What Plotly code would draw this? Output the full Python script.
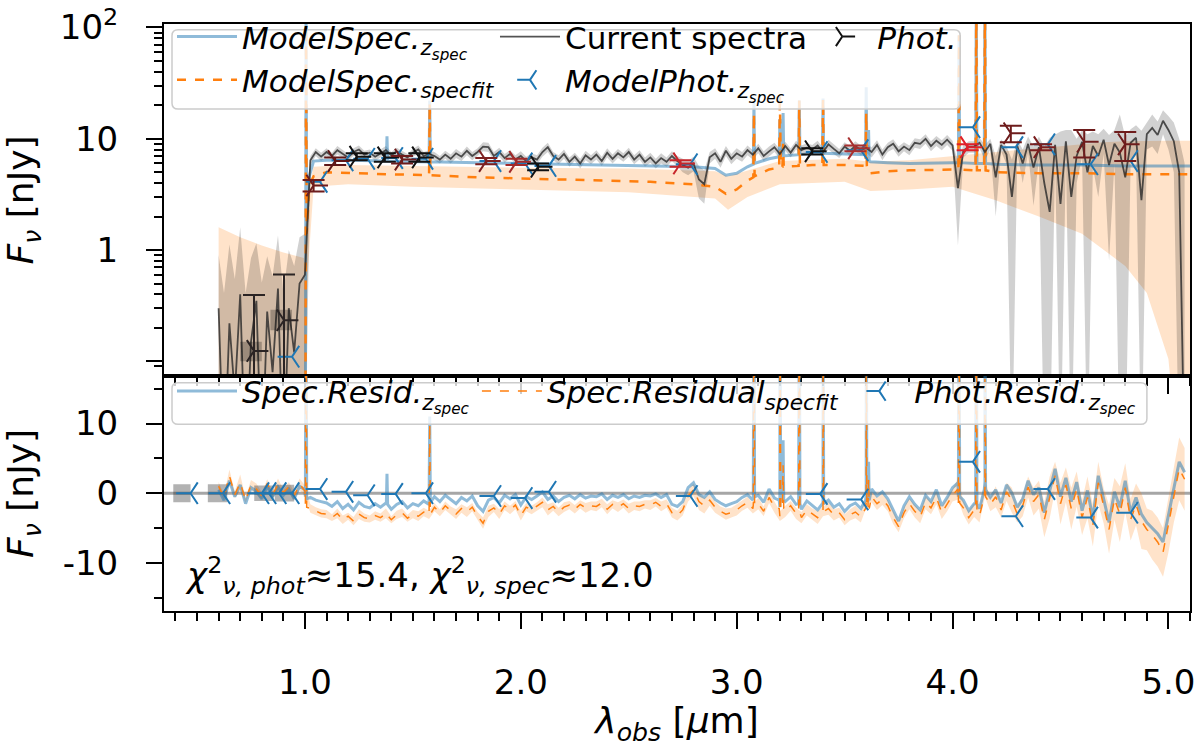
import numpy as np
import plotly.graph_objects as go

# ---------------- data ----------------
# observed spectrum (current spectra), its 1-sigma error and the two residuals
lam_spec = [
    0.600, 0.625, 0.650, 0.675, 0.700, 0.725, 0.750, 0.775, 0.800, 0.825,
    0.850, 0.875, 0.900, 0.925, 0.950, 0.975, 1.000, 1.025, 1.050, 1.075,
    1.100, 1.125, 1.150, 1.175, 1.200, 1.225, 1.250, 1.275, 1.300, 1.325,
    1.350, 1.375, 1.400, 1.425, 1.450, 1.475, 1.500, 1.525, 1.550, 1.575,
    1.600, 1.625, 1.650, 1.675, 1.700, 1.725, 1.750, 1.775, 1.800, 1.825,
    1.850, 1.875, 1.900, 1.925, 1.950, 1.975, 2.000, 2.025, 2.050, 2.075,
    2.100, 2.125, 2.150, 2.175, 2.200, 2.225, 2.250, 2.275, 2.300, 2.325,
    2.350, 2.375, 2.400, 2.425, 2.450, 2.475, 2.500, 2.525, 2.550, 2.575,
    2.600, 2.625, 2.650, 2.675, 2.700, 2.725, 2.750, 2.775, 2.800, 2.825,
    2.850, 2.875, 2.900, 2.925, 2.950, 2.975, 3.000, 3.025, 3.050, 3.075,
    3.100, 3.125, 3.150, 3.175, 3.200, 3.225, 3.250, 3.275, 3.300, 3.325,
    3.350, 3.375, 3.400, 3.425, 3.450, 3.475, 3.500, 3.525, 3.550, 3.575,
    3.600, 3.625, 3.650, 3.675, 3.700, 3.725, 3.750, 3.775, 3.800, 3.825,
    3.850, 3.875, 3.900, 3.925, 3.950, 3.975, 4.000, 4.025, 4.050, 4.075,
    4.100, 4.125, 4.150, 4.175, 4.200, 4.225, 4.250, 4.275, 4.300, 4.325,
    4.350, 4.375, 4.400, 4.425, 4.450, 4.475, 4.500, 4.525, 4.550, 4.575,
    4.600, 4.625, 4.650, 4.675, 4.700, 4.725, 4.750, 4.775, 4.800, 4.825,
    4.850, 4.875, 4.900, 4.925, 4.950, 4.975, 5.000, 5.025, 5.050, 5.075,
]
flux_spec = [
    0.30, 0.01, 0.22, 0.05, 0.40, 0.01, 0.15, 0.35, 0.01, 0.28,
    0.08, 0.45, 0.01, 0.30, 0.12, 0.50, 0.60, 6.4, 7.6, 6.9,
    7.6, 7.0, 7.9, 7.3, 6.8, 7.6, 8.0, 7.2, 7.5, 6.9,
    7.4, 7.9, 7.1, 7.7, 7.2, 6.8, 7.5, 8.0, 7.0, 7.3,
    7.0, 6.5, 7.2, 6.6, 7.4, 6.9, 7.8, 7.0, 7.6, 8.5,
    8.4, 7.0, 7.6, 6.7, 7.3, 6.5, 7.0, 6.3, 6.8, 6.5,
    7.6, 8.4, 7.0, 6.5, 7.3, 6.2, 6.9, 6.0, 7.1, 6.5,
    7.2, 6.3, 7.5, 6.6, 7.4, 6.8, 7.6, 6.5, 7.2, 6.2,
    6.8, 6.0, 6.7, 6.2, 7.0, 6.3, 5.8, 5.5, 6.0, 4.3,
    3.9, 6.8, 7.4, 6.2, 7.8, 6.6, 7.4, 6.9, 7.9, 7.2,
    8.2, 7.0, 7.7, 8.4, 7.3, 8.6, 7.5, 8.8, 7.9, 8.3,
    8.0, 8.7, 7.6, 8.9, 8.1, 7.4, 8.5, 7.8, 8.6, 7.9,
    8.3, 7.6, 8.8, 7.2, 8.4, 9.0, 7.7, 8.5, 7.9, 9.2,
    9.0, 10.0, 8.6, 9.6, 8.8, 9.8, 8.7, 3.6, 7.8, 8.5,
    8.5, 9.2, 7.6, 9.0, 4.5, 8.8, 7.2, 3.0, 8.6, 6.0,
    9.0, 5.5, 8.4, 4.0, 2.2, 8.8, 2.6, 9.5, 3.0, 7.0,
    9.4, 5.0, 8.6, 7.0, 9.8, 5.8, 9.0, 7.5, 4.5, 9.2,
    10.2, 2.8, 11.0, 12.5, 10.8, 14.5, 12.0, 9.5, 5.0, 0.01,
]
err_spec = [
    0.6, 0.4, 0.9, 0.5, 1.2, 0.4, 0.7, 0.8, 0.5, 0.6,
    0.5, 0.9, 0.4, 0.7, 0.6, 0.8, 0.8, 0.6, 0.6, 0.6,
    0.6, 0.5, 0.7, 0.6, 0.5, 0.6, 0.7, 0.6, 0.5, 0.6,
    0.6, 0.7, 0.5, 0.6, 0.6, 0.5, 0.6, 0.7, 0.6, 0.6,
    0.6, 0.5, 0.6, 0.6, 0.7, 0.6, 0.7, 0.6, 0.6, 0.8,
    0.8, 0.6, 0.7, 0.6, 0.6, 0.6, 0.7, 0.6, 0.6, 0.6,
    0.7, 0.8, 0.6, 0.6, 0.7, 0.6, 0.6, 0.6, 0.7, 0.6,
    0.7, 0.6, 0.7, 0.6, 0.7, 0.6, 0.7, 0.6, 0.7, 0.6,
    0.7, 0.6, 0.7, 0.6, 0.7, 0.7, 0.8, 0.8, 0.9, 1.4,
    1.3, 0.8, 0.8, 0.7, 0.8, 0.7, 0.8, 0.7, 0.8, 0.7,
    0.8, 0.7, 0.8, 0.8, 0.7, 0.8, 0.7, 0.8, 0.8, 0.8,
    0.8, 0.9, 0.7, 0.9, 0.8, 0.7, 0.8, 0.8, 0.9, 0.8,
    0.8, 0.8, 0.9, 0.8, 0.8, 0.9, 0.8, 0.8, 0.8, 0.9,
    0.9, 1.0, 0.9, 1.0, 0.9, 1.0, 0.9, 2.5, 1.0, 1.0,
    1.0, 1.0, 1.2, 1.0, 2.5, 1.1, 1.3, 3.5, 1.2, 2.0,
    1.5, 3.0, 2.0, 4.5, 8.0, 2.0, 9.0, 2.5, 9.0, 3.0,
    2.5, 6.0, 3.0, 4.0, 2.5, 5.0, 3.0, 9.0, 6.0, 3.0,
    3.0, 9.0, 3.0, 4.0, 3.5, 3.5, 4.0, 4.5, 5.0, 6.0,
]
res_zspec = [
    0.5, -1.0, 1.8, -0.5, 1.2, -1.5, 0.8, 0.3, -0.8, 1.0,
    -0.5, 0.9, -0.3, 0.6, -0.8, 1.0, 0.5, -0.6, -1.0, -1.2,
    -1.4, -1.9, -1.2, -2.2, -1.6, -2.4, -1.3, -1.9, -2.1, -1.5,
    -2.0, -1.4, -2.3, -1.6, -1.2, -2.1, -1.5, -1.8, -1.1, -1.6,
    -0.5, -1.2, -0.3, -0.9, -1.5, -0.6, -1.1, -0.4, -1.8, -2.6,
    -1.0, -0.6, -1.4, -0.3, -0.8, -0.2, -1.7, -0.5, -0.9, -0.4,
    0.2, -0.9, -0.4, -1.2, -0.6, -0.3, -0.8, -0.2, -0.7, -0.4,
    -0.5, -0.1, -0.9, -0.3, -0.6, -0.2, -0.8, -0.4, -0.6, -0.3,
    -0.4, -0.1, -0.6, -0.2, -1.6, -1.9, -1.2, 0.8, 1.5, -0.2,
    -0.6, 0.2, -0.9, -1.4, -1.8, -1.5, -1.2, -0.6, -0.2, -1.0,
    -0.3, -1.3, 0.6, -0.7, -2.0, -1.2, -0.5, -1.6, -2.3, -1.1,
    -1.8, -2.4, -1.3, -1.0, -2.0, -1.5, -2.6, -1.8, -1.4, -2.2,
    -0.3, 0.6, -0.4, 0.2, -0.8, -2.5, -4.0, -1.8, -0.5, -1.6,
    -2.4, -0.3, -1.2, 0.5, -1.8, -0.6, 0.8, 1.5, -1.0, -2.5,
    -1.5, -2.2, 1.6, -0.6, 0.5, -1.4, 1.2, 0.0, -2.0, -0.8,
    1.8, -0.2, 0.8, -2.8, 0.4, 3.5, -0.5, 2.2, -1.2, 1.6,
    -2.5, 0.4, -3.6, 2.5, -0.8, -4.2, 0.2, -2.0, 1.8, -2.8,
    -0.6, -3.0, -4.2, -5.0, -5.8, -7.0, -3.2, 1.0, 4.5, 3.0,
]
res_specfit = [
    1.0, -0.6, 2.5, -0.2, 1.5, -1.0, 1.2, 0.6, -0.4, 1.4,
    -0.2, 1.2, 0.1, 0.9, -0.4, 1.3, 0.3, -2.2, -2.6, -2.9,
    -3.0, -3.5, -2.9, -3.8, -3.3, -4.0, -3.0, -3.5, -3.7, -3.2,
    -3.5, -2.9, -3.8, -3.1, -2.8, -3.6, -3.0, -3.3, -2.7, -3.1,
    -2.0, -2.8, -1.8, -2.5, -3.0, -2.2, -2.7, -2.0, -3.3, -4.3,
    -2.6, -2.1, -3.0, -1.8, -2.4, -1.7, -3.2, -2.0, -2.4, -1.9,
    -1.3, -2.4, -1.9, -2.7, -2.0, -1.7, -2.3, -1.6, -2.1, -1.8,
    -1.9, -1.4, -2.3, -1.6, -2.0, -1.5, -2.2, -1.8, -1.9, -1.6,
    -1.7, -1.3, -1.9, -1.5, -2.8, -3.2, -2.4, -0.4, 0.5, -1.2,
    -1.8, -1.0, -2.0, -2.6, -3.0, -2.8, -2.4, -1.8, -1.3, -2.2,
    -1.5, -2.6, -0.6, -2.0, -3.3, -2.6, -1.8, -2.9, -3.5, -2.4,
    -3.0, -3.5, -2.6, -2.2, -3.1, -2.8, -3.8, -3.1, -2.7, -3.4,
    -1.3, -0.5, -1.5, -0.9, -1.8, -3.5, -4.8, -2.8, -1.5, -2.6,
    -3.4, -1.3, -2.1, -0.6, -2.8, -1.6, -0.3, 0.6, -2.1, -3.5,
    -2.4, -3.2, 0.7, -1.6, -0.5, -2.4, 0.2, -1.0, -3.0, -1.8,
    0.9, -1.2, -0.2, -3.8, -0.6, 2.5, -1.5, 1.2, -2.2, 0.6,
    -3.5, -0.6, -4.6, 1.5, -1.8, -5.2, -0.8, -3.0, 0.8, -3.8,
    -1.6, -4.0, -5.2, -6.0, -7.0, -8.5, -4.5, -0.2, 3.5, 2.0,
]
# half-width of the shaded band around the spec-fit residual
res_err = [
    0.6, 0.4, 0.9, 0.5, 1.2, 0.4, 0.7, 0.8, 0.5, 0.6,
    0.5, 0.9, 0.4, 0.7, 0.6, 0.8, 0.8, 0.6, 0.6, 0.6,
    0.6, 0.5, 0.7, 0.6, 0.5, 0.6, 0.7, 0.6, 0.5, 0.6,
    0.6, 0.7, 0.5, 0.6, 0.6, 0.5, 0.6, 0.7, 0.6, 0.6,
    0.6, 0.5, 0.6, 0.6, 0.7, 0.6, 0.7, 0.6, 0.6, 0.8,
    0.8, 0.6, 0.7, 0.6, 0.6, 0.6, 0.7, 0.6, 0.6, 0.6,
    0.7, 0.8, 0.6, 0.6, 0.7, 0.6, 0.6, 0.6, 0.7, 0.6,
    0.7, 0.6, 0.7, 0.6, 0.7, 0.6, 0.7, 0.6, 0.7, 0.6,
    0.7, 0.6, 0.7, 0.6, 0.7, 0.7, 0.8, 0.8, 0.9, 1.2,
    1.1, 0.8, 0.8, 0.7, 0.8, 0.7, 0.8, 0.7, 0.8, 0.7,
    0.8, 0.7, 0.8, 0.8, 0.7, 0.8, 0.7, 0.8, 0.8, 0.8,
    0.8, 0.9, 0.7, 0.9, 0.8, 0.7, 0.8, 0.8, 0.9, 0.8,
    0.8, 0.8, 0.9, 0.8, 0.8, 0.9, 0.8, 0.8, 0.8, 0.9,
    0.9, 1.0, 0.9, 1.0, 0.9, 1.0, 0.9, 1.5, 1.0, 1.0,
    1.0, 1.0, 1.2, 1.0, 1.5, 1.1, 1.3, 1.8, 1.2, 1.5,
    1.5, 2.0, 2.0, 2.5, 3.0, 2.0, 3.0, 2.5, 3.0, 2.5,
    2.5, 3.0, 3.0, 3.0, 2.5, 3.5, 3.0, 4.0, 3.5, 3.0,
    3.0, 4.0, 3.0, 3.5, 3.5, 3.5, 4.0, 4.0, 4.5, 4.5,
]

# emission-line spikes in the residuals (base, peak, base)
res_line_lam = [1.002, 1.005, 1.008, 1.377, 1.380, 1.383, 1.575, 1.578, 1.581,
                3.077, 3.080, 3.083, 3.197, 3.200, 3.204, 3.212, 3.215, 3.218,
                3.287, 3.290, 3.293, 3.397, 3.400, 3.403, 3.597, 3.600, 3.603,
                3.608, 3.611, 3.614, 4.027, 4.030, 4.033, 4.107, 4.110, 4.113,
                4.147, 4.150, 4.153]
res_line_zspec = [-0.5, 40, -0.8, -1.6, 2.8, -1.6, -1.3, 11, -1.3,
                  -0.5, 40, -0.5, -1.0, 40, -1.0, -1.0, 7.6, -1.0,
                  -1.5, 40, -1.5, -1.5, 40, -1.5, -1.0, 40, -1.0,
                  -1.0, 4.5, -1.0, -0.5, 40, -0.5, -1.5, 40, -1.5,
                  0.5, 40, 0.5]
res_line_specfit = [-1.5, 40, -2.0, -3.2, -3.2, -3.2, -3.0, 10, -3.0,
                    -1.7, 40, -1.7, -2.2, 40, -2.2, -2.2, 4.0, -2.2,
                    -2.8, 40, -2.8, -2.6, 40, -2.6, -2.2, 40, -2.2,
                    -2.2, 2.0, -2.2, -1.4, 40, -1.4, -2.4, 40, -2.4,
                    -0.5, 40, -0.5]

# model spectra at z_spec and from the spectral fit
lam_model = [0.600, 0.995, 1.002, 1.005, 1.008, 1.020, 1.040, 1.100, 1.200,
             1.377, 1.380, 1.383, 1.575, 1.578, 1.581, 1.800, 2.000, 2.200,
             2.400, 2.600, 2.800, 2.900, 2.950, 3.000, 3.050, 3.077, 3.080,
             3.083, 3.150, 3.197, 3.200, 3.204, 3.212, 3.215, 3.218, 3.287,
             3.290, 3.293, 3.350, 3.397, 3.400, 3.403, 3.500, 3.597, 3.600,
             3.603, 3.608, 3.611, 3.614, 3.620, 3.700, 3.800, 4.000, 4.027,
             4.030, 4.033, 4.107, 4.110, 4.113, 4.147, 4.150, 4.153, 4.200,
             4.400, 4.600, 4.800, 5.000, 5.110]
model_zspec = [0.01, 0.01, 0.01, 150, 1.8, 4.6, 6.3, 6.4, 6.4,
               6.3, 10.5, 6.3, 6.2, 22, 6.2, 6.1, 6.0, 5.9,
               5.8, 5.7, 5.6, 5.4, 4.7, 4.9, 5.6, 5.9, 21,
               6.0, 6.6, 6.9, 15, 7.0, 7.0, 17, 7.0, 7.2,
               22, 7.2, 7.4, 7.4, 23, 7.4, 7.3, 7.2, 29,
               7.2, 6.5, 12, 6.3, 6.2, 6.1, 6.0, 6.1, 6.1,
               85, 6.1, 6.0, 200, 6.0, 6.0, 200, 6.0, 5.9,
               5.8, 5.8, 5.7, 5.7, 5.7]
model_specfit = [0.01, 0.01, 0.01, 150, 1.4, 3.8, 4.6, 5.0, 4.9,
                 4.8, 4.8, 4.8, 4.7, 21, 4.7, 4.5, 4.4, 4.3,
                 4.2, 4.1, 3.9, 3.7, 3.2, 3.5, 4.2, 4.5, 17,
                 4.6, 5.3, 5.5, 25, 5.6, 5.6, 9.0, 5.6, 5.7,
                 22, 5.7, 5.8, 5.8, 23, 5.8, 5.8, 5.7, 17,
                 5.7, 5.0, 5.0, 5.0, 4.9, 5.1, 5.2, 5.3, 5.3,
                 85, 5.3, 5.2, 200, 5.2, 5.2, 200, 5.2, 5.0,
                 4.9, 4.9, 4.8, 4.8, 4.8]

# uncertainty band of the spectral-fit model
lam_band = [0.600, 0.700, 0.800, 0.900, 0.995, 1.010, 1.040, 1.200, 1.500,
            2.000, 2.500, 2.900, 2.960, 3.050, 3.200, 3.500, 3.620, 3.800,
            4.000, 4.200, 4.400, 4.600, 4.700, 4.800, 4.900, 4.950, 5.000,
            5.050, 5.110]
band_hi = [1.6, 1.3, 1.1, 0.95, 0.85, 3.0, 5.6, 5.8, 5.7,
           5.5, 5.4, 5.1, 4.6, 5.2, 6.3, 6.6, 6.2, 6.4,
           7.0, 7.6, 8.2, 9.0, 9.3, 9.5, 9.6, 9.6, 9.6,
           9.6, 9.6]
band_lo = [0.01, 0.01, 0.01, 0.01, 0.01, 0.5, 3.7, 3.9, 3.7,
           3.5, 3.3, 2.9, 2.3, 3.0, 3.9, 4.1, 3.4, 3.5,
           3.7, 2.8, 2.0, 1.4, 1.0, 0.72, 0.41, 0.21, 0.105,
           0.01, 0.01]

# photometry (observed)
phot_lam = [0.764, 0.903, 1.04, 1.14, 1.24, 1.37, 1.45, 1.53, 1.84, 1.98,
            2.08, 2.74, 3.35, 3.55, 4.07, 4.27, 4.41, 4.61, 4.80]
phot_flux = [0.124, 0.234, 3.8, 6.3, 6.9, 6.8, 6.5, 6.8, 6.3, 6.2,
             5.6, 6.0, 7.7, 8.2, 8.4, 11.2, 8.4, 9.4, 8.9]
phot_err = [0.27, 0.37, 0.45, 0.5, 0.5, 0.6, 0.5, 0.6, 0.4, 0.4,
            0.4, 0.4, 0.5, 0.5, 0.5, 1.9, 0.5, 2.6, 2.6]
phot_color = ["#2b2424", "#2b2424", "#6e1c1c", "#5e1717", "#111111", "#111111",
              "#6e1c1c", "#111111", "#7d2020", "#a32a2a", "#111111", "#c8262b",
              "#111111", "#a83030", "#e0202a", "#6e1c1c", "#7a1f1f", "#6e1c1c",
              "#6e1c1c"]
# filter-width boxes behind the two faint points
box_lam = [0.750, 0.890]
box_width = [0.10, 0.10]
box_lo = [0.10, 0.19]
box_hi = [0.15, 0.29]

# model photometry at z_spec and its residual
mphot_lam = [0.470, 0.620, 0.800, 0.833, 0.880, 0.940, 1.070, 1.190, 1.290,
             1.420, 1.560, 1.875, 2.020, 2.130, 2.785, 3.387, 3.576, 4.094,
             4.293, 4.441, 4.640, 4.825]
mphot_flux = [0.03, 0.03, 0.04, 0.05, 0.06, 0.11, 4.1, 6.4, 6.6,
              6.7, 6.6, 6.3, 6.0, 5.7, 5.9, 7.6, 7.9, 12.7,
              8.4, 8.9, 5.9, 6.3]
mphot_res = [0.0, 0.0, 0.0, 0.0, 0.0, 0.0, 0.6, 0.2, -0.3,
             -0.1, 0.0, -0.4, -0.7, 0.2, -0.4, -0.1, -0.9, 4.5,
             -3.3, 0.6, -3.5, -2.8]
# residual boxes of the blue photometry
rbox_lam = [0.430, 0.595, 0.810, 0.905]
rbox_width = [0.08, 0.09, 0.09, 0.09]
rbox_err = [1.3, 1.3, 1.1, 1.2]

# ---------------- styling ----------------
FONT = "DejaVu Sans"
BLUE_LINE = "rgba(31,119,180,0.5)"
ORANGE = "#ff7f0e"
ORANGE_FILL = "rgba(255,127,14,0.22)"
GREY_FILL = "rgba(0,0,0,0.18)"
DATA_LINE = "rgba(40,40,40,0.8)"

fig = go.Figure()

# --- top panel ---
fig.add_trace(go.Scatter(x=lam_band, y=band_lo, mode="lines", line=dict(width=0),
                         showlegend=False, hoverinfo="skip", xaxis="x", yaxis="y"))
fig.add_trace(go.Scatter(x=lam_band, y=band_hi, mode="lines", line=dict(width=0),
                         fill="tonexty", fillcolor=ORANGE_FILL,
                         showlegend=False, hoverinfo="skip", xaxis="x", yaxis="y"))

spec_lo = [max(f - e, 0.01) for f, e in zip(flux_spec, err_spec)]
spec_hi = [f + e for f, e in zip(flux_spec, err_spec)]
fig.add_trace(go.Scatter(x=lam_spec, y=spec_lo, mode="lines", line=dict(width=0),
                         showlegend=False, hoverinfo="skip", xaxis="x", yaxis="y"))
fig.add_trace(go.Scatter(x=lam_spec, y=spec_hi, mode="lines", line=dict(width=0),
                         fill="tonexty", fillcolor=GREY_FILL,
                         showlegend=False, hoverinfo="skip", xaxis="x", yaxis="y"))

fig.add_trace(go.Scatter(x=lam_model, y=model_zspec, mode="lines",
                         line=dict(color=BLUE_LINE, width=3),
                         name="<i>ModelSpec.</i><sub><i>z<sub>spec</sub></i></sub>",
                         legend="legend", xaxis="x", yaxis="y"))
fig.add_trace(go.Scatter(x=lam_model, y=model_specfit, mode="lines",
                         line=dict(color=ORANGE, width=2.5, dash="dash"),
                         name="<i>ModelSpec.</i><sub><i>specfit</i></sub>",
                         legend="legend", xaxis="x", yaxis="y"))
fig.add_trace(go.Scatter(x=lam_spec, y=flux_spec, mode="lines",
                         line=dict(color=DATA_LINE, width=1.8),
                         name="Current spectra", legend="legend2", xaxis="x", yaxis="y"))

# filter boxes
bx, by = [], []
for l, w, lo, hi in zip(box_lam, box_width, box_lo, box_hi):
    bx += [l - w / 2, l + w / 2, l + w / 2, l - w / 2, l - w / 2, None]
    by += [lo, lo, hi, hi, lo, None]
fig.add_trace(go.Scatter(x=bx, y=by, mode="lines", fill="toself", fillcolor="rgba(0,0,0,0.25)",
                         line=dict(width=0), showlegend=False, hoverinfo="skip",
                         xaxis="x", yaxis="y"))

fig.add_trace(go.Scatter(x=mphot_lam, y=mphot_flux, mode="markers",
                         marker=dict(symbol="y-left", size=18,
                                     line=dict(color="#1f77b4", width=2)),
                         name="<i>ModelPhot.</i><sub><i>z<sub>spec</sub></i></sub>",
                         legend="legend2", xaxis="x", yaxis="y"))

# observed photometry, one trace per colour so the error bars follow it
groups = []
for c in phot_color:
    if c not in groups:
        groups.append(c)
groups.sort(key=lambda c: c != "#111111")
for gi, c in enumerate(groups):
    idx = [i for i, pc in enumerate(phot_color) if pc == c]
    fl = [phot_flux[i] for i in idx]
    er = [phot_err[i] for i in idx]
    er_minus = [min(e, 0.99 * f) for f, e in zip(fl, er)]
    fig.add_trace(go.Scatter(
        x=[phot_lam[i] for i in idx], y=fl, mode="markers",
        marker=dict(symbol="y-right", size=18, line=dict(color=c, width=2)),
        error_y=dict(type="data", symmetric=False, array=er, arrayminus=er_minus,
                     color=c, thickness=2, width=11),
        name="<i>Phot.</i>", legend="legend3", showlegend=(gi == 0),
        xaxis="x", yaxis="y"))

# --- bottom panel ---
res_lo = [r - e for r, e in zip(res_specfit, res_err)]
res_hi = [r + e for r, e in zip(res_specfit, res_err)]
fig.add_trace(go.Scatter(x=lam_spec, y=res_lo, mode="lines", line=dict(width=0),
                         showlegend=False, hoverinfo="skip", xaxis="x2", yaxis="y2"))
fig.add_trace(go.Scatter(x=lam_spec, y=res_hi, mode="lines", line=dict(width=0),
                         fill="tonexty", fillcolor=ORANGE_FILL,
                         showlegend=False, hoverinfo="skip", xaxis="x2", yaxis="y2"))

rx, ry = [], []
for l, w, e in zip(rbox_lam, rbox_width, rbox_err):
    rx += [l - w / 2, l + w / 2, l + w / 2, l - w / 2, l - w / 2, None]
    ry += [-e, -e, e, e, -e, None]
fig.add_trace(go.Scatter(x=rx, y=ry, mode="lines", fill="toself", fillcolor="rgba(0,0,0,0.3)",
                         line=dict(width=0), showlegend=False, hoverinfo="skip",
                         xaxis="x2", yaxis="y2"))

order = np.argsort(np.array(lam_spec + res_line_lam), kind="stable")
lam_res = np.array(lam_spec + res_line_lam)[order]
rz = np.array(res_zspec + res_line_zspec)[order]
rf = np.array(res_specfit + res_line_specfit)[order]

fig.add_trace(go.Scatter(x=lam_res, y=rz, mode="lines",
                         line=dict(color=BLUE_LINE, width=3),
                         name="<i>Spec.Resid.</i><sub><i>z<sub>spec</sub></i></sub>",
                         legend="legend4", xaxis="x2", yaxis="y2"))
fig.add_trace(go.Scatter(x=lam_res, y=rf, mode="lines",
                         line=dict(color=ORANGE, width=1.5, dash="dash"),
                         name="<i>Spec.Residual</i><sub><i>specfit</i></sub>",
                         legend="legend5", xaxis="x2", yaxis="y2"))
fig.add_trace(go.Scatter(x=mphot_lam, y=mphot_res, mode="markers",
                         marker=dict(symbol="y-left", size=18,
                                     line=dict(color="#1f77b4", width=2)),
                         name="<i>Phot.Resid.</i><sub><i>z<sub>spec</sub></i></sub>",
                         legend="legend6", xaxis="x2", yaxis="y2"))


def rounded_box(x0, y0, x1, y1, rx=0.006, ry=0.010):
    return (f"M{x0+rx},{y0} L{x1-rx},{y0} Q{x1},{y0} {x1},{y0+ry} "
            f"L{x1},{y1-ry} Q{x1},{y1} {x1-rx},{y1} L{x0+rx},{y1} "
            f"Q{x0},{y1} {x0},{y1-ry} L{x0},{y0+ry} Q{x0},{y0} {x0+rx},{y0} Z")


tick_font = dict(family=FONT, size=34, color="black")
title_font = dict(family=FONT, size=36, color="black")
axis_common = dict(showline=True, linecolor="black", linewidth=2, mirror=True,
                   ticks="outside", tickcolor="black", tickwidth=2, showgrid=False,
                   zeroline=False, automargin=False, ticklabeloverflow="allow")
minor_common = dict(ticklen=8, tickcolor="black", tickwidth=1.5)
leg_common = dict(bgcolor="rgba(0,0,0,0)", borderwidth=0, orientation="v",
                  font=dict(family=FONT, size=31, color="black"),
                  xanchor="left", yanchor="top", tracegroupgap=0, itemwidth=60,
                  traceorder="normal")

minor_log = [0.09] + [0.1 * i for i in range(2, 10)] + [i for i in range(2, 10)] + \
            [10 * i for i in range(2, 10)]

fig.update_layout(
    width=1200, height=747,
    template="none",
    margin=dict(l=164, r=10, t=17, b=136),
    paper_bgcolor="white", plot_bgcolor="white",
    font=dict(family=FONT, size=32, color="black"),
    xaxis=dict(domain=[0, 1], anchor="y", range=[0.347, 5.10], showticklabels=False,
               tickvals=[1, 2, 3, 4, 5], ticklen=16,
               minor=dict(dtick=0.1, tick0=0, **minor_common),
               **axis_common),
    yaxis=dict(domain=[0.4007, 1.0], anchor="x", type="log", range=[-1.13, 2.031],
               tickvals=[0.1, 1, 10, 100], ticktext=["", "1", "10", "10<sup>2</sup>"],
               ticklen=16, tickfont=tick_font, ticklabelstandoff=21,
               minor=dict(tickvals=minor_log, **minor_common),
               title=dict(text="<i>F</i><sub><i>ν</i></sub> [nJy]", font=title_font,
                          standoff=28),
               **axis_common),
    xaxis2=dict(domain=[0, 1], anchor="y2", matches="x", range=[0.347, 5.10],
                tickvals=[1, 2, 3, 4, 5], ticktext=["1.0", "2.0", "3.0", "4.0", "5.0"],
                ticklen=16, tickfont=tick_font, ticklabelstandoff=24,
                minor=dict(dtick=0.1, tick0=0, **minor_common),
                title=dict(text="<i>λ</i><sub><i>obs</i></sub> [<i>μ</i>m]",
                           font=title_font, standoff=12),
                **axis_common),
    yaxis2=dict(domain=[0, 0.4007], anchor="x2", range=[-16.9, 16.85],
                tickvals=[-10, 0, 10], ticktext=["-10", "0", "10"], ticklen=16,
                tickfont=tick_font, ticklabelstandoff=21,
                minor=dict(tickvals=[-15, -5, 5, 15], **minor_common),
                title=dict(text="<i>F</i><sub><i>ν</i></sub> [nJy]", font=title_font,
                           standoff=28),
                **axis_common),
    legend=dict(x=0.0078, y=1.024, **leg_common),
    legend2=dict(x=0.3226, y=1.024, **leg_common),
    legend3=dict(x=0.627, y=1.024, **leg_common),
    legend4=dict(x=0.0078, y=0.42, **leg_common),
    legend5=dict(x=0.305, y=0.42, **leg_common),
    legend6=dict(x=0.663, y=0.42, **leg_common),
    shapes=[
        dict(type="path", xref="paper", yref="paper", layer="above",
             path=rounded_box(0.0078, 0.855, 0.776, 0.990),
             fillcolor="rgba(255,255,255,0.8)", line=dict(color="rgba(204,204,204,1)", width=1.5)),
        dict(type="path", xref="paper", yref="paper", layer="above",
             path=rounded_box(0.0078, 0.318, 0.958, 0.389),
             fillcolor="rgba(255,255,255,0.8)", line=dict(color="rgba(204,204,204,1)", width=1.5)),
        dict(type="line", xref="x2 domain", yref="y2", x0=0, x1=1, y0=0, y1=0,
             layer="below", line=dict(color="rgba(128,128,128,0.7)", width=3)),
    ],
    annotations=[
        dict(xref="paper", yref="paper", x=0.0185, y=0.0606, xanchor="left", yanchor="middle",
             showarrow=False, font=dict(family=FONT, size=34, color="black"),
             text="<i>χ</i><sup>2</sup><sub><i>ν, phot</i></sub>≈15.4, "
                  "<i>χ</i><sup>2</sup><sub><i>ν, spec</i></sub>≈12.0"),
    ],
)

# drop the browser's default body margin so the figure sits at the page corner
fig.write_html("out.html", config={"displayModeBar": False},
               post_script="document.body.style.margin='0';")
